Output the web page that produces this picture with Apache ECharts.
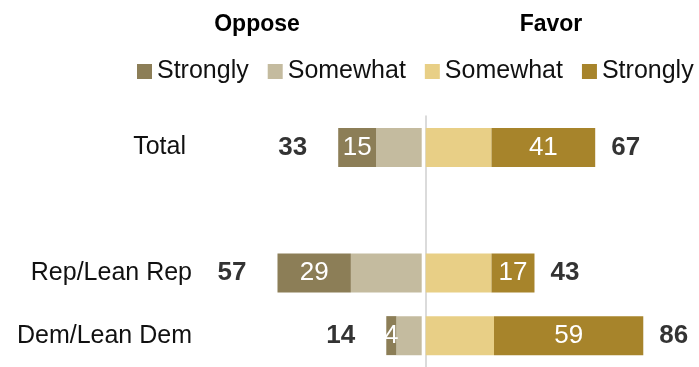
<!DOCTYPE html>
<html>
<head>
<meta charset="utf-8">
<script src="https://cdn.jsdelivr.net/npm/echarts@6/dist/echarts.min.js"></script>
<style>
  html, body { margin: 0; padding: 0; background: #fff; }
  #chart { width: 699px; height: 367px; }
</style>
</head>
<body>
<div id="chart"></div>
<script>
const categories = ["Total", "", "Rep/Lean Rep", "Dem/Lean Dem"];
const opposeStrongly = [15, null, 29, 4];
const opposeSomewhat = [18, null, 28, 10];
const favorSomewhat = [26, null, 26, 27];
const favorStrongly = [41, null, 17, 59];
const opposeTotal = [33, null, 57, 14];
const favorTotal = [67, null, 43, 86];

const legendText = {
  oppStrong: "Strongly",
  oppSome: "Somewhat",
  favSome: "Somewhat",
  favStrong: "Strongly",
};

const font = "Liberation Sans, Arial, sans-serif";
const chart = echarts.init(document.getElementById("chart"), null, { renderer: "canvas" });

const segLabel = {
  show: true,
  position: "inside",
  color: "#fff",
  fontFamily: font,
  fontSize: 26,
  formatter: ({ value }) => (value == null ? "" : value),
};

function totalPoints(values) {
  return values
    .map((v, i) => (v == null ? null : [v, categories[i]]))
    .filter(Boolean);
}

const gridTop = 116;
const gridHeight = 259;

chart.setOption({
  animation: false,
  textStyle: { fontFamily: font },
  title: [
    {
      text: "Oppose", left: 257, top: 13, padding: 0, textAlign: "center",
      textStyle: { fontSize: 23, fontWeight: "bold", color: "#000", fontFamily: font },
    },
    {
      text: "Favor", left: 551, top: 13, padding: 0, textAlign: "center",
      textStyle: { fontSize: 23, fontWeight: "bold", color: "#000", fontFamily: font },
    },
  ],
  legend: {
    left: 137,
    top: 59,
    padding: 0,
    itemWidth: 15,
    itemHeight: 15,
    itemGap: 19,
    icon: "rect",
    data: ["oppStrong", "oppSome", "favSome", "favStrong"],
    formatter: (name) => legendText[name],
    textStyle: { fontSize: 25, color: "#111", fontFamily: font },
  },
  grid: [
    { left: 168.7, right: 277.3, top: gridTop, height: gridHeight },
    { left: 425.7, right: 20.3, top: gridTop, height: gridHeight },
  ],
  xAxis: [
    { gridIndex: 0, type: "value", min: 0, max: 100, inverse: true, show: false },
    { gridIndex: 1, type: "value", min: 0, max: 100, show: false },
  ],
  yAxis: [
    { gridIndex: 0, type: "category", data: categories, inverse: true, show: false },
    {
      gridIndex: 1,
      type: "category",
      data: categories,
      inverse: true,
      position: "left",
      offset: 2,
      axisLine: { show: true, lineStyle: { color: "#cfcfcf", width: 1.5 } },
      axisTick: { show: false },
      axisLabel: {
        margin: 231.7,
        fontSize: 25,
        color: "#111",
        fontFamily: font,
        formatter: (v) => (v === "Total" ? "{t|" + v + "}" : v),
        rich: { t: { fontSize: 25, color: "#111", fontFamily: font, padding: [0, 6, 0, 0] } },
      },
    },
  ],
  series: [
    {
      name: "oppSome", type: "bar", stack: "opp", xAxisIndex: 0, yAxisIndex: 0,
      barWidth: 39, data: opposeSomewhat, itemStyle: { color: "#c4bb9f" },
    },
    {
      name: "oppStrong", type: "bar", stack: "opp", xAxisIndex: 0, yAxisIndex: 0,
      barWidth: 39, data: opposeStrongly, itemStyle: { color: "#8c7e57" }, label: segLabel,
    },
    {
      name: "favSome", type: "bar", stack: "fav", xAxisIndex: 1, yAxisIndex: 1,
      barWidth: 39, data: favorSomewhat, itemStyle: { color: "#e8cf86" },
    },
    {
      name: "favStrong", type: "bar", stack: "fav", xAxisIndex: 1, yAxisIndex: 1,
      barWidth: 39, data: favorStrongly, itemStyle: { color: "#a7842b" }, label: segLabel,
    },
    {
      type: "scatter", xAxisIndex: 0, yAxisIndex: 0, symbolSize: 0,
      data: totalPoints(opposeTotal),
      label: {
        show: true, position: "left", distance: 31,
        fontSize: 26, fontWeight: "bold", color: "#000", fontFamily: font,
        formatter: ({ value }) => value[0],
      },
    },
    {
      type: "scatter", xAxisIndex: 1, yAxisIndex: 1, symbolSize: 0,
      data: totalPoints(favorTotal),
      label: {
        show: true, position: "right", distance: 16,
        fontSize: 26, fontWeight: "bold", color: "#000", fontFamily: font,
        formatter: ({ value }) => value[0],
      },
    },
  ],
});
</script>
</body>
</html>
